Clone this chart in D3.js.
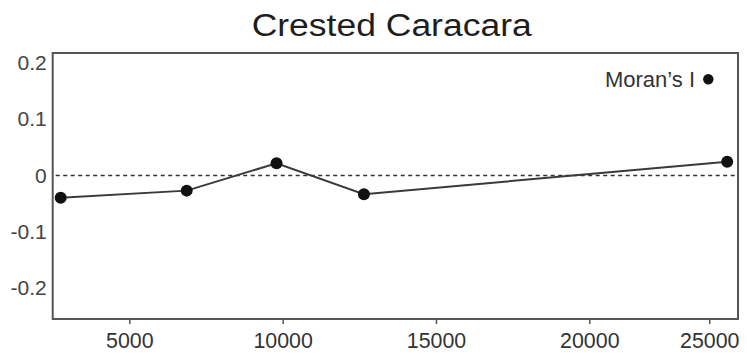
<!DOCTYPE html>
<html>
<head>
<meta charset="utf-8">
<script src="https://cdn.jsdelivr.net/npm/d3@7"></script>
<style>
  html, body { margin: 0; padding: 0; background: #fff; }
  svg { display: block; }
  text { font-family: "Liberation Sans", Arial, sans-serif; }
</style>
</head>
<body>
<svg id="chart" width="747" height="357"></svg>
<script>
// Correlogram: Moran's I by distance class
const title = "Crested Caracara";
const seriesName = "Moran\u2019s I";
const distances = [2760, 6870, 9800, 12650, 25750];
const moransI = [-0.0395, -0.027, 0.0215, -0.0335, 0.0243];
const xTickValues = [5000, 10000, 15000, 20000, 25000];
const yTickValues = [-0.2, -0.1, 0, 0.1, 0.2];

const svg = d3.select("#chart");
const plot = { left: 52.7, right: 738, top: 53, bottom: 319 };

// x axis is piecewise: the last segment is compressed
const x = d3.scaleLinear()
  .domain([2500, 20000, 26200])
  .range([plot.left, 589.3, plot.right]);

const y = d3.scaleLinear()
  .domain([-0.2546, 0.217])
  .range([plot.bottom, plot.top]);

// title
svg.append("text")
  .attr("x", 391.7)
  .attr("y", 36)
  .attr("text-anchor", "middle")
  .attr("font-size", 31)
  .attr("textLength", 280)
  .attr("lengthAdjust", "spacingAndGlyphs")
  .attr("fill", "#1e1e1e")
  .text(title);

// zero reference line
svg.append("line")
  .attr("x1", plot.left + 3)
  .attr("x2", plot.right - 3)
  .attr("y1", y(0))
  .attr("y2", y(0))
  .attr("stroke", "#333")
  .attr("stroke-width", 1.5)
  .attr("stroke-dasharray", "4,3.5");

// series line
const line = d3.line()
  .x((d, i) => x(distances[i]))
  .y(d => y(d));

svg.append("path")
  .datum(moransI)
  .attr("d", line)
  .attr("fill", "none")
  .attr("stroke", "#3a3a3a")
  .attr("stroke-width", 2);

svg.append("g")
  .selectAll("circle")
  .data(moransI)
  .join("circle")
  .attr("cx", (d, i) => x(distances[i]))
  .attr("cy", d => y(d))
  .attr("r", 6)
  .attr("fill", "#111");

// frame
svg.append("rect")
  .attr("x", plot.left)
  .attr("y", plot.top)
  .attr("width", plot.right - plot.left)
  .attr("height", plot.bottom - plot.top)
  .attr("fill", "none")
  .attr("stroke", "#555")
  .attr("stroke-width", 2);

// x axis
const xAxis = svg.append("g")
  .attr("transform", `translate(0,${plot.bottom})`)
  .call(d3.axisBottom(x)
    .tickValues(xTickValues)
    .tickSize(5)
    .tickPadding(7.7)
    .tickFormat(d => String(d)));
xAxis.select(".domain").remove();
xAxis.selectAll(".tick line").attr("stroke", "#555").attr("stroke-width", 1.5);
xAxis.selectAll(".tick text")
  .attr("font-size", 23)
  .attr("font-family", "Liberation Sans, Arial, sans-serif")
  .attr("fill", "#333")
  .attr("transform", "scale(0.93,1)");

// y axis
const yAxis = svg.append("g")
  .attr("transform", `translate(${plot.left},0)`)
  .call(d3.axisLeft(y)
    .tickValues(yTickValues)
    .tickSize(0)
    .tickPadding(6)
    .tickFormat(d => String(d)));
yAxis.select(".domain").remove();
yAxis.selectAll(".tick text")
  .attr("font-size", 21)
  .attr("font-family", "Liberation Sans, Arial, sans-serif")
  .attr("fill", "#444");

// legend
const legend = svg.append("g").attr("transform", "translate(708.3,79.3)");
legend.append("circle").attr("r", 5.2).attr("fill", "#111");
legend.append("text")
  .attr("x", -13.3)
  .attr("y", 8)
  .attr("text-anchor", "end")
  .attr("font-size", 22)
  .attr("fill", "#333")
  .attr("transform", "scale(1,1)")
  .text(seriesName);
</script>
</body>
</html>
